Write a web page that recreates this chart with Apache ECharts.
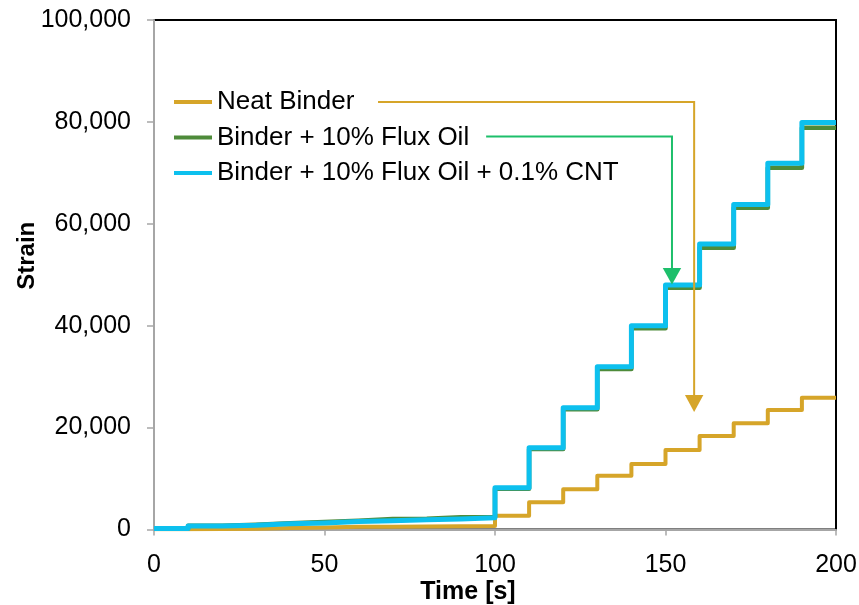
<!DOCTYPE html>
<html>
<head>
<meta charset="utf-8">
<script src="https://cdn.jsdelivr.net/npm/echarts@6/dist/echarts.min.js"></script>
<style>
html,body{margin:0;padding:0;background:#fff;}
#chart{width:859px;height:605px;}
</style>
</head>
<body>
<div id="chart"></div>
<script>
// Start time of each creep-recovery cycle [s] (plus end of test)
const cycleStart = [0,10,20,30,40,50,60,70,80,90,100,110,120,130,140,150,160,170,180,190,200];
// Strain level reached in each cycle
const neatBinder = [50,120,170,300,380,520,560,600,640,680,2700,5340,7890,10560,12850,15600,18350,20850,23450,25870,25870];
const fluxOil    = [200,750,950,1250,1450,1700,2050,2100,2400,2450,8000,15800,23600,31500,39500,47450,55300,63150,71000,78850,78850];
const fluxOilCnt = [200,700,850,1150,1300,1550,1700,1900,2050,2300,8200,16050,23900,31950,40000,48000,56050,63800,71900,79900,79900];
const seriesNames = ['Neat Binder','Binder + 10% Flux Oil','Binder + 10% Flux Oil + 0.1% CNT'];
const xTicks = [0,50,100,150,200];
const yTicks = [0,20000,40000,60000,80000,100000];
// Annotation arrows (data coordinates): start, corner, arrowhead base, tip
const goldArrow  = [[65.7,83906],[158.4,83906],[158.4,26398],[158.4,23062]];
const greenArrow = [[97.4,77134],[151.9,77134],[151.9,51325],[151.9,48086]];

const FONT = '"Liberation Sans", Arial, sans-serif';
const colors = ['#D6A529','#4E8B3A','#0DC0EE'];
const widths = [4,4.5,5];
const chart = echarts.init(document.getElementById('chart'), null, {renderer:'canvas'});
const allData = [neatBinder, fluxOil, fluxOilCnt];

const option = {
  animation:false,
  backgroundColor:'#fff',
  grid:{left:154,right:23,top:20,bottom:75.5,containLabel:false,outerBoundsMode:'none',
        show:true,borderColor:'#000',borderWidth:2,backgroundColor:'transparent'},
  legend:{
    data:seriesNames, orient:'vertical', left:174, top:89, padding:0,
    itemWidth:38, itemHeight:4, icon:'rect', itemGap:9.5,
    textStyle:{fontFamily:FONT,fontSize:26,lineHeight:26,color:'#000'}
  },
  xAxis:{
    type:'value', min:xTicks[0], max:xTicks[xTicks.length-1], interval:50,
    name:'Time [s]', nameLocation:'middle', nameGap:50, nameMoveOverlap:false,
    nameTextStyle:{fontFamily:FONT,fontSize:25,fontWeight:'bold',color:'#000',padding:[0,54,0,0]},
    axisLine:{onZero:false,lineStyle:{color:'#A6A6A6',width:2}},
    axisTick:{show:true,inside:false,length:6,lineStyle:{color:'#A6A6A6',width:1.5}},
    axisLabel:{fontFamily:FONT,fontSize:25,color:'#000',margin:23},
    splitLine:{show:false}
  },
  yAxis:{
    type:'value', min:yTicks[0], max:yTicks[yTicks.length-1], interval:20000,
    name:'Strain', nameLocation:'middle', nameGap:115, nameRotate:90, nameMoveOverlap:false,
    nameTextStyle:{fontFamily:FONT,fontSize:24,fontWeight:'bold',color:'#000',padding:[0,0,0,38]},
    axisLine:{onZero:false,lineStyle:{color:'#A6A6A6',width:2}},
    axisTick:{show:true,inside:false,length:7,lineStyle:{color:'#A6A6A6',width:1.5}},
    axisLabel:{fontFamily:FONT,fontSize:25,color:'#000',margin:23,
      formatter:v=>v.toLocaleString('en-US')},
    splitLine:{show:false}
  },
  series: seriesNames.map((n,k)=>({
    name:n, type:'line', step:'end', showSymbol:false, symbol:'none',
    color:colors[k],
    lineStyle:{color:colors[k],width:widths[k],join:'round'},
    data: cycleStart.map((t,i)=>[t, allData[k][i]]),
    z:2+k
  }))
};
chart.setOption(option);

function arrowGraphics(pts, color){
  const p = pts.map(d=>chart.convertToPixel({gridIndex:0}, d));
  const hw = 9.2;
  return [
    {type:'polyline', shape:{points:[p[0],p[1],p[2]]}, style:{stroke:color,lineWidth:2,fill:null}, z:10},
    {type:'polygon', shape:{points:[[p[2][0]-hw,p[2][1]],[p[2][0]+hw,p[2][1]],[p[3][0],p[3][1]]]}, style:{fill:color}, z:10}
  ];
}
chart.setOption({graphic:[...arrowGraphics(goldArrow,'#D6A529'), ...arrowGraphics(greenArrow,'#1DBF6B')]});
</script>
</body>
</html>
